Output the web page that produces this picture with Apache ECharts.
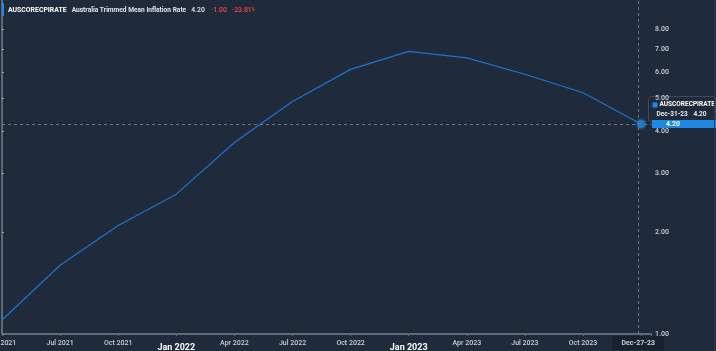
<!DOCTYPE html>
<html><head><meta charset="utf-8">
<script src="https://cdn.jsdelivr.net/npm/echarts@6/dist/echarts.min.js"></script>
<style>html,body{margin:0;padding:0;background:#1f2b3a;}#c{width:716px;height:351px;}</style>
</head><body><div id="c"></div>
<script>
const dates = ['Mar-31-21','Jun-30-21','Sep-30-21','Dec-31-21','Mar-31-22','Jun-30-22','Sep-30-22','Dec-31-22','Mar-31-23','Jun-30-23','Sep-30-23','Dec-31-23'];
const values = [1.1, 1.6, 2.1, 2.6, 3.7, 4.9, 6.1, 6.9, 6.6, 5.9, 5.2, 4.2];
const xTickLabels = ['Apr 2021','Jul 2021','Oct 2021','Jan 2022','Apr 2022','Jul 2022','Oct 2022','Jan 2023','Apr 2023','Jul 2023','Oct 2023'];
const yTickValues = [1,2,3,4,5,6,7,8];
const seriesId = 'AUSCORECPIRATE';
const seriesName = 'Australia Trimmed Mean Inflation Rate';
const crosshairDate = 'Dec-27-23';
const crosshairX = 10.95;

const n = values.length;
const last = values[n-1];
const chg = last - values[n-2];
const pct = chg / last * 100;
const FONT = 'Roboto';
const BLUE = '#1e88e5';

const chart = echarts.init(document.getElementById('c'));
chart.setOption({
  backgroundColor: '#1f2b3a',
  animation: false,
  textStyle: {fontFamily: FONT},
  title: {
    left: 8, top: 5, padding: 0,
    text: '{id|' + seriesId + '}{nm|' + seriesName + '}{v|' + last.toFixed(2) + '}{neg|' + chg.toFixed(2) + '}{neg|' + pct.toFixed(2) + '}{pct|%}',
    textStyle: {
      lineHeight: 10,
      rich: {
        id: {fontFamily: FONT, fontSize: 6.9, fontWeight: 'bold', color: '#ffffff', lineHeight: 10, padding: [0, 5, 0, 0]},
        nm: {fontFamily: FONT, fontSize: 6.6, fontWeight: 'bold', color: '#dfe4ea', lineHeight: 10, padding: [0, 5, 0, 0]},
        v: {fontFamily: FONT, fontSize: 6.9, fontWeight: 500, color: '#e3e7ec', lineHeight: 10, padding: [0, 6, 0, 0]},
        neg: {fontFamily: FONT, fontSize: 6.9, fontWeight: 500, color: '#f2444e', lineHeight: 10, padding: [0, 5, 0, 0]},
        pct: {fontFamily: FONT, fontSize: 4.5, fontWeight: 500, color: '#f2444e', lineHeight: 10, padding: [0, 0, 0, -5]}
      }
    }
  },
  grid: {left: 2, right: 65, top: 0, bottom: 17, containLabel: false, outerBoundsMode: 'none'},
  xAxis: {
    type: 'value', min: 0, max: 11.17, interval: 1,
    axisLine: {show: true, lineStyle: {color: '#5f6a77', width: 2}},
    axisTick: {show: true, length: 2, lineStyle: {color: '#5f6a77'}},
    splitLine: {show: false},
    axisLabel: {
      margin: 6, hideOverlap: false,
      formatter: function (v) {
        if (Math.abs(v - Math.round(v)) > 1e-6) return '';
        const s = xTickLabels[Math.round(v)];
        if (!s) return '';
        return s.indexOf('Jan') === 0 ? '{j|' + s + '}' : '{m|' + s + '}';
      },
      rich: {
        m: {fontFamily: FONT, fontSize: 7, fontWeight: 500, color: '#c9d0d8'},
        j: {fontFamily: FONT, fontSize: 9, fontWeight: 'bold', color: '#ffffff', padding: [3, 0, 0, 0]}
      }
    },
    axisPointer: {
      show: true, status: 'show', value: crosshairX, triggerTooltip: false,
      lineStyle: {color: '#6b7684', type: [3, 3], width: 1},
      label: {
        show: true, formatter: function () { return crosshairDate; },
        backgroundColor: '#18222e', color: '#c9d0d8', fontFamily: FONT, fontSize: 7, fontWeight: 'bold',
        padding: [4, 9, 3, 9], margin: 2, borderRadius: 0
      }
    }
  },
  yAxis: {
    type: 'log', logBase: 10, min: 1, max: 9.8, position: 'right',
    axisLine: {show: true, lineStyle: {color: '#5f6a77', width: 2}},
    axisTick: {show: true, length: 2, customValues: yTickValues, lineStyle: {color: '#9aa3ad'}},
    splitLine: {show: false},
    axisLabel: {
      customValues: yTickValues, margin: 4, color: '#c9d0d8', fontFamily: FONT, fontSize: 7, fontWeight: 500,
      formatter: function (v) { return Number(v).toFixed(2); }
    },
    axisPointer: {
      show: true, status: 'show', value: last, triggerTooltip: false,
      lineStyle: {color: '#6b7684', type: [3, 3], width: 1},
      label: {
        show: true, formatter: function (p) { return Number(p.value).toFixed(2); },
        backgroundColor: BLUE, color: '#ffffff', fontFamily: FONT, fontSize: 7, fontWeight: 'bold',
        padding: [1, 36, 0, 14], margin: 1, borderRadius: 0
      }
    }
  },
  axisPointer: {triggerOn: 'none'},
  series: [
    {
      type: 'line', data: values.map((v, i) => [i, v]), showSymbol: false, symbol: 'none',
      lineStyle: {color: '#1c74d4', width: 1.2}, z: 3
    },
    {
      type: 'scatter', data: [[n - 1, last]], symbol: 'circle', symbolSize: 8,
      itemStyle: {color: BLUE, borderColor: 'rgba(30,136,229,0.35)', borderWidth: 4}, z: 5
    }
  ],
  graphic: [
    {type: 'rect', left: 2, top: 3, shape: {width: 2, height: 13}, style: {fill: BLUE}, z: 100},
    {type: 'line', shape: {x1: 714.5, y1: 0, x2: 714.5, y2: 351}, style: {stroke: '#2d3a49', lineWidth: 1}, z: 100},
    {
      type: 'group', left: 648, top: 96, z: 200,
      children: [
        {type: 'rect', shape: {x: 0, y: 0, width: 67, height: 25, r: 3}, style: {fill: '#1f2b3a', stroke: '#3b4b5d', lineWidth: 1}},
        {type: 'rect', shape: {x: 4, y: 6, width: 5, height: 5}, style: {fill: BLUE}},
        {type: 'text', x: 11, y: 4.5, style: {text: seriesId, fill: '#ffffff', font: 'bold 6.5px Roboto'}},
        {type: 'text', x: 8, y: 14.5, style: {text: dates[n - 1], fill: '#e6eaef', font: 'bold 6.5px Roboto'}},
        {type: 'text', x: 58, y: 14.5, style: {text: last.toFixed(2), fill: '#e6eaef', font: 'bold 6.5px Roboto', align: 'right'}}
      ]
    }
  ]
});
</script></body></html>
